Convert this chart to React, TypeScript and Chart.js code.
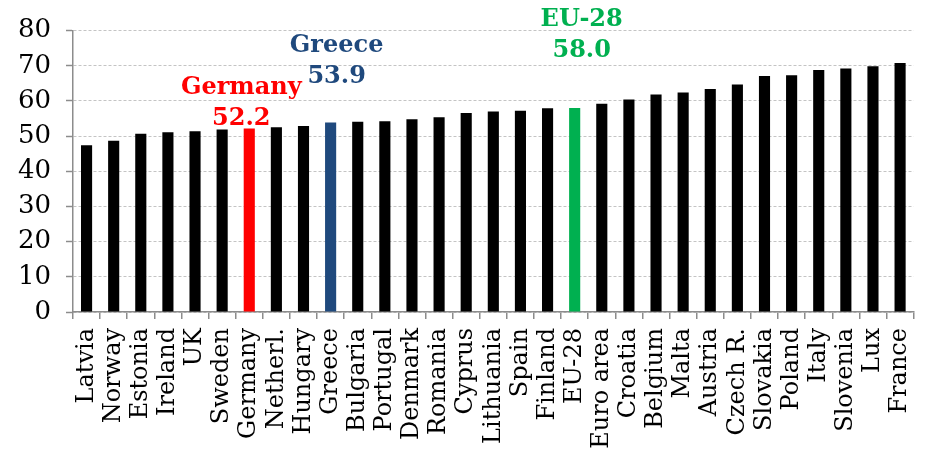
import React, { useEffect, useRef } from "react";
import { Chart, registerables } from "chart.js";

Chart.register(...registerables);

const categories = [
  "Latvia", "Norway", "Estonia", "Ireland", "UK", "Sweden", "Germany", "Netherl.",
  "Hungary", "Greece", "Bulgaria", "Portugal", "Denmark", "Romania", "Cyprus",
  "Lithuania", "Spain", "Finland", "EU-28", "Euro area", "Croatia", "Belgium",
  "Malta", "Austria", "Czech R.", "Slovakia", "Poland", "Italy", "Slovenia", "Lux", "France",
];

const values = [
  47.4, 48.7, 50.7, 51.1, 51.4, 51.9, 52.2, 52.5,
  52.9, 53.9, 54.1, 54.2, 54.8, 55.4, 56.6,
  57.0, 57.2, 57.9, 58.0, 59.2, 60.4, 61.8,
  62.4, 63.4, 64.7, 67.1, 67.3, 68.8, 69.2, 69.9, 70.8,
];

const highlightNames = ["Germany", "Greece", "EU-28"];
const highlightColors = ["#FF0000", "#1F497D", "#00B050"];
const highlightLabels = [
  ["Germany", "52.2"],
  ["Greece", "53.9"],
  ["EU-28", "58.0"],
];

const yTicks = [0, 10, 20, 30, 40, 50, 60, 70, 80];

// annotation styling offsets (px) relative to bar centre/top
const annotationOffsets = [
  { dx: -8, dy: [-41, -10] },
  { dx: 6, dy: [-77, -46] },
  { dx: 7, dy: [-88, -57] },
];

const barColors = categories.map((c) => {
  const i = highlightNames.indexOf(c);
  return i >= 0 ? highlightColors[i] : "#000000";
});

const annotationPlugin = {
  id: "highlightLabels",
  afterDatasetsDraw(chart: any) {
    const meta = chart.getDatasetMeta(0);
    const ctx = chart.ctx;
    ctx.save();
    ctx.font = "bold 24px 'DejaVu Serif'";
    ctx.textAlign = "center";
    ctx.textBaseline = "middle";
    highlightNames.forEach((name, k) => {
      const idx = categories.indexOf(name);
      const bar = meta.data[idx];
      if (!bar) return;
      ctx.fillStyle = highlightColors[k];
      const off = annotationOffsets[k];
      highlightLabels[k].forEach((line, j) => {
        ctx.fillText(line, bar.x + off.dx, bar.y + off.dy[j]);
      });
    });
    ctx.restore();
  },
};

export default function App() {
  const ref = useRef<HTMLCanvasElement>(null);
  useEffect(() => {
    if (!ref.current) return;
    const chart = new Chart(ref.current, {
      type: "bar",
      data: {
        labels: categories,
        datasets: [
          {
            data: values,
            backgroundColor: barColors,
            borderWidth: 0,
            barPercentage: 0.41,
            categoryPercentage: 1,
          },
        ],
      },
      options: {
        animation: false,
        responsive: false,
        maintainAspectRatio: false,
        layout: { padding: { top: 29, right: 7, left: 0, bottom: 0 } },
        plugins: {
          legend: { display: false },
          tooltip: { enabled: false },
        },
        scales: {
          x: {
            offset: true,
            grid: {
              display: true,
              offset: true,
              drawOnChartArea: false,
              drawTicks: true,
              tickLength: 7,
              color: "#8c8c8c",
              lineWidth: 1.5,
            },
            border: { display: true, color: "#8c8c8c", width: 1.5 },
            ticks: {
              color: "#000",
              font: { family: "'DejaVu Serif'", size: 24 },
              maxRotation: 90,
              minRotation: 90,
              padding: 9,
              autoSkip: false,
            },
            afterFit(scale: any) {
              scale.height = 142;
            },
          },
          y: {
            min: 0,
            max: 80,
            afterBuildTicks(scale: any) {
              scale.ticks = yTicks.map((v) => ({ value: v }));
            },
            grid: {
              color: "#c4c4c4",
              lineWidth: 1,
              drawTicks: true,
              tickLength: 7,
              tickColor: "#8c8c8c",
              tickWidth: 1.5,
            },
            border: { display: true, color: "#8c8c8c", width: 1.5, dash: [3, 2] },
            ticks: {
              color: "#000",
              font: { family: "'DejaVu Serif'", size: 26 },
              padding: 15,
            },
            afterFit(scale: any) {
              scale.width = 73;
            },
          },
        },
      },
      plugins: [annotationPlugin],
    });
    return () => chart.destroy();
  }, []);
  return (
    <div style={{ position: "absolute", left: 0, top: 0, width: 938, height: 454, background: "#fff" }}>
      <canvas ref={ref} width={938} height={454} style={{ width: 938, height: 454 }} />
    </div>
  );
}
